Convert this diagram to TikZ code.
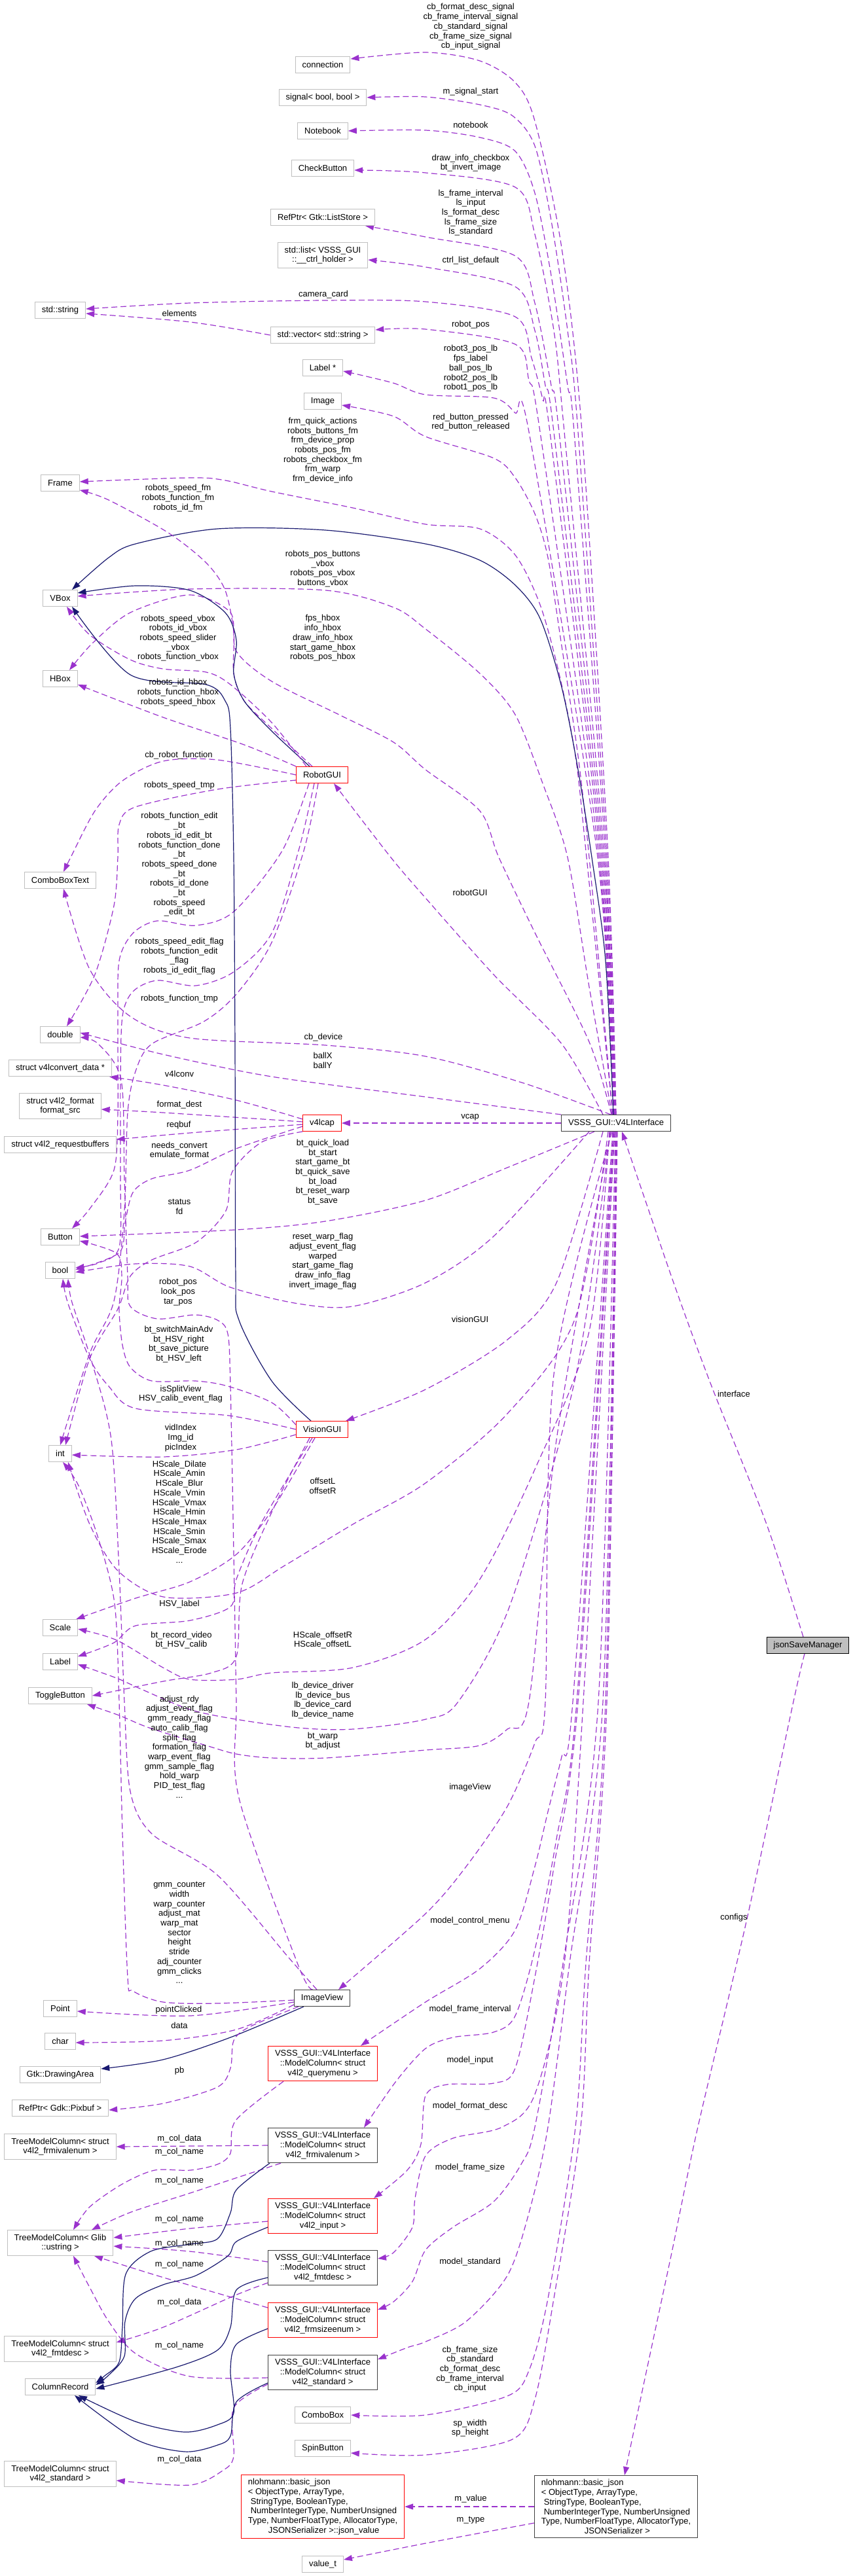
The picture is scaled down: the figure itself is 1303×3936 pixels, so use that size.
\documentclass[tikz,border=0pt]{standalone}
\usepackage{fontspec}
\setmainfont{Liberation Sans}
\usetikzlibrary{arrows.meta,backgrounds}
\definecolor{depc}{HTML}{9A32CD}
\definecolor{inhc}{HTML}{191970}
\definecolor{extgray}{HTML}{BFBFBF}
\definecolor{blkgray}{HTML}{404040}
\begin{document}
\begin{tikzpicture}[x=1pt,y=-1pt,
  cls/.style={rectangle, line width=1pt, fill=white, font=\fontsize{13}{14.7}\selectfont, inner xsep=10.5pt, inner ysep=6pt, minimum height=25pt, align=center},
  ext/.style={cls, draw=extgray},
  trunc/.style={cls, draw=red},
  blk/.style={cls, draw=blkgray},
  lbl/.style={font=\fontsize{13}{14.7}\selectfont, align=center, inner sep=0pt},
  dep/.style={draw=depc, line width=1.2pt, dash pattern=on 9pt off 5pt, -{Triangle[length=13pt,width=9pt]}},
  inh/.style={draw=inhc, line width=1.2pt, -{Triangle[length=13pt,width=9pt]}}]
\useasboundingbox (0,0) rectangle (1303,3936);
% ---------- nodes ----------
\node[ext] (connection) at (493,99) {connection};
\node[ext] (signal) at (493,149) {signal< bool, bool >};
\node[ext] (notebook) at (493,200) {Notebook};
\node[ext] (checkbutton) at (493,257) {CheckButton};
\node[ext] (liststore) at (493,332) {RefPtr< Gtk::ListStore >};
\node[ext] (ctrllist) at (493,390) {std::list< VSSS\_GUI\\::\_\_ctrl\_holder >};
\node[ext] (stdstring) at (92,474) {std::string};
\node[ext] (stdvector) at (493,512) {std::vector< std::string >};
\node[ext] (labelptr) at (493,562) {Label *};
\node[ext] (image) at (493,613) {Image};
\node[ext] (frame) at (92,738) {Frame};
\node[ext] (vbox) at (92,914) {VBox};
\node[ext] (hbox) at (92,1037) {HBox};
\node[trunc] (robotgui) at (492,1184) {RobotGUI};
\node[ext] (comboboxtext) at (92,1345) {ComboBoxText};
\node[ext] (ndouble) at (92,1581) {double};
\node[ext] (v4lconvdata) at (92,1632) {struct v4lconvert\_data *};
\node[ext] (v4l2format) at (92,1690) {struct v4l2\_format\\format\_src};
\node[trunc] (v4lcap) at (492,1716) {v4lcap};
\node[blk] (v4l) at (941,1716) {VSSS\_GUI::V4LInterface};
\node[ext] (reqbuf) at (92,1749) {struct v4l2\_requestbuffers};
\node[ext] (button) at (92,1890) {Button};
\node[ext] (nbool) at (92,1941) {bool};
\node[trunc] (visiongui) at (492,2184) {VisionGUI};
\node[ext] (nint) at (92,2221) {int};
\node[ext] (scale) at (92,2487) {Scale};
\node[ext] (nlabel) at (92,2539) {Label};
\node[ext] (togglebutton) at (92,2591) {ToggleButton};
\node[cls, draw=black, fill=extgray] (jsonsave) at (1234,2514) {jsonSaveManager};
\node[blk] (imageview) at (492,3053) {ImageView};
\node[ext] (point) at (92,3069) {Point};
\node[ext] (nchar) at (92,3119) {char};
\node[trunc] (mcquerymenu) at (493,3153) {VSSS\_GUI::V4LInterface\\::ModelColumn< struct\\v4l2\_querymenu >};
\node[ext] (drawingarea) at (92,3170) {Gtk::DrawingArea};
\node[ext] (pixbuf) at (92,3221) {RefPtr< Gdk::Pixbuf >};
\node[ext] (tmcfrmival) at (92,3280) {TreeModelColumn< struct\\v4l2\_frmivalenum >};
\node[blk] (mcfrmival) at (493,3278) {VSSS\_GUI::V4LInterface\\::ModelColumn< struct\\v4l2\_frmivalenum >};
\node[trunc] (mcinput) at (493,3386) {VSSS\_GUI::V4LInterface\\::ModelColumn< struct\\v4l2\_input >};
\node[ext] (tmcustring) at (92,3427) {TreeModelColumn< Glib\\::ustring >};
\node[blk] (mcfmtdesc) at (493,3465) {VSSS\_GUI::V4LInterface\\::ModelColumn< struct\\v4l2\_fmtdesc >};
\node[trunc] (mcfrmsize) at (493,3545) {VSSS\_GUI::V4LInterface\\::ModelColumn< struct\\v4l2\_frmsizeenum >};
\node[ext] (tmcfmtdesc) at (92,3589) {TreeModelColumn< struct\\v4l2\_fmtdesc >};
\node[blk] (mcstandard) at (493,3625) {VSSS\_GUI::V4LInterface\\::ModelColumn< struct\\v4l2\_standard >};
\node[ext] (columnrecord) at (92,3647) {ColumnRecord};
\node[ext] (combobox) at (493,3690) {ComboBox};
\node[ext] (spinbutton) at (493,3741) {SpinButton};
\node[ext] (tmcstandard) at (92,3780) {TreeModelColumn< struct\\v4l2\_standard >};
\node[trunc, align=left] (jsonvalue) at (493,3830) {nlohmann::basic\_json\\< ObjectType, ArrayType,\\\hspace*{4pt}StringType, BooleanType,\\\hspace*{4pt}NumberIntegerType, NumberUnsigned\\Type, NumberFloatType, AllocatorType,\\\hspace*{31pt}JSONSerializer >::json\_value};
\node[blk, align=left] (nlohmann) at (941,3830) {nlohmann::basic\_json\\< ObjectType, ArrayType,\\\hspace*{4pt}StringType, BooleanType,\\\hspace*{4pt}NumberIntegerType, NumberUnsigned\\Type, NumberFloatType, AllocatorType,\\\hspace*{66pt}JSONSerializer >};
\node[ext] (valuet) at (493,3918) {value\_t};
% ---------- edge labels ----------
\node[lbl] (l1) at (719,41) {cb\_format\_desc\_signal\\cb\_frame\_interval\_signal\\cb\_standard\_signal\\cb\_frame\_size\_signal\\cb\_input\_signal};
\node[lbl] (l2) at (719,140) {m\_signal\_start};
\node[lbl] (l3) at (719,191) {notebook};
\node[lbl] (l4) at (719,249) {draw\_info\_checkbox\\bt\_invert\_image};
\node[lbl] (l5) at (719,325) {ls\_frame\_interval\\ls\_input\\ls\_format\_desc\\ls\_frame\_size\\ls\_standard};
\node[lbl] (l6) at (719,398) {ctrl\_list\_default};
\node[lbl] (l7) at (494,450) {camera\_card};
\node[lbl] (l8) at (274,479) {elements};
\node[lbl] (l9) at (719,496) {robot\_pos};
\node[lbl] (l10) at (719,563) {robot3\_pos\_lb\\fps\_label\\ball\_pos\_lb\\robot2\_pos\_lb\\robot1\_pos\_lb};
\node[lbl] (l11) at (719,645) {red\_button\_pressed\\red\_button\_released};
\node[lbl] (l12) at (493,688) {frm\_quick\_actions\\robots\_buttons\_fm\\frm\_device\_prop\\robots\_pos\_fm\\robots\_checkbox\_fm\\frm\_warp\\frm\_device\_info};
\node[lbl] (l13) at (272,761) {robots\_speed\_fm\\robots\_function\_fm\\robots\_id\_fm};
\node[lbl] (l14) at (493,869) {robots\_pos\_buttons\\\_vbox\\robots\_pos\_vbox\\buttons\_vbox};
\node[lbl] (l15) at (272,975) {robots\_speed\_vbox\\robots\_id\_vbox\\robots\_speed\_slider\\\_vbox\\robots\_function\_vbox};
\node[lbl] (l16) at (493,975) {fps\_hbox\\info\_hbox\\draw\_info\_hbox\\start\_game\_hbox\\robots\_pos\_hbox};
\node[lbl] (l17) at (272,1058) {robots\_id\_hbox\\robots\_function\_hbox\\robots\_speed\_hbox};
\node[lbl] (l18) at (273,1154) {cb\_robot\_function};
\node[lbl] (l19) at (274,1200) {robots\_speed\_tmp};
\node[lbl] (l20) at (274,1321) {robots\_function\_edit\\\_bt\\robots\_id\_edit\_bt\\robots\_function\_done\\\_bt\\robots\_speed\_done\\\_bt\\robots\_id\_done\\\_bt\\robots\_speed\\\_edit\_bt};
\node[lbl] (l21) at (718,1364) {robotGUI};
\node[lbl] (l22) at (274,1461) {robots\_speed\_edit\_flag\\robots\_function\_edit\\\_flag\\robots\_id\_edit\_flag};
\node[lbl] (l23) at (274,1526) {robots\_function\_tmp};
\node[lbl] (l24) at (494,1585) {cb\_device};
\node[lbl] (l25) at (493,1620) {ballX\\ballY};
\node[lbl] (l26) at (274,1641) {v4lconv};
\node[lbl] (l27) at (274,1688) {format\_dest};
\node[lbl] (l28) at (718,1707) {vcap};
\node[lbl] (l29) at (273,1719) {reqbuf};
\node[lbl] (l30) at (274,1758) {needs\_convert\\emulate\_format};
\node[lbl] (l31) at (493,1791) {bt\_quick\_load\\bt\_start\\start\_game\_bt\\bt\_quick\_save\\bt\_load\\bt\_reset\_warp\\bt\_save};
\node[lbl] (l32) at (274,1844) {status\\fd};
\node[lbl] (l33) at (493,1927) {reset\_warp\_flag\\adjust\_event\_flag\\warped\\start\_game\_flag\\draw\_info\_flag\\invert\_image\_flag};
\node[lbl] (l34) at (272,1974) {robot\_pos\\look\_pos\\tar\_pos};
\node[lbl] (l35) at (718,2016) {visionGUI};
\node[lbl] (l36) at (273,2054) {bt\_switchMainAdv\\bt\_HSV\_right\\bt\_save\_picture\\bt\_HSV\_left};
\node[lbl] (l37) at (1121,2130) {interface};
\node[lbl] (l38) at (276,2130) {isSplitView\\HSV\_calib\_event\_flag};
\node[lbl] (l39) at (276,2197) {vidIndex\\Img\_id\\picIndex};
\node[lbl] (l40) at (493,2270) {offsetL\\offsetR};
\node[lbl] (l41) at (274,2310) {HScale\_Dilate\\HScale\_Amin\\HScale\_Blur\\HScale\_Vmin\\HScale\_Vmax\\HScale\_Hmin\\HScale\_Hmax\\HScale\_Smin\\HScale\_Smax\\HScale\_Erode\\...};
\node[lbl] (l42) at (274,2451) {HSV\_label};
\node[lbl] (l43) at (277,2506) {bt\_record\_video\\bt\_HSV\_calib};
\node[lbl] (l44) at (493,2506) {HScale\_offsetR\\HScale\_offsetL};
\node[lbl] (l45) at (493,2598) {lb\_device\_driver\\lb\_device\_bus\\lb\_device\_card\\lb\_device\_name};
\node[lbl] (l46) at (274,2669) {adjust\_rdy\\adjust\_event\_flag\\gmm\_ready\_flag\\auto\_calib\_flag\\split\_flag\\formation\_flag\\warp\_event\_flag\\gmm\_sample\_flag\\hold\_warp\\PID\_test\_flag\\...};
\node[lbl] (l47) at (493,2660) {bt\_warp\\bt\_adjust};
\node[lbl] (l48) at (718,2731) {imageView};
\node[lbl] (l49) at (1121,2930) {configs};
\node[lbl] (l50) at (718,2935) {model\_control\_menu};
\node[lbl] (l51) at (274,2953) {gmm\_counter\\width\\warp\_counter\\adjust\_mat\\warp\_mat\\sector\\height\\stride\\adj\_counter\\gmm\_clicks\\...};
\node[lbl] (l52) at (718,3070) {model\_frame\_interval};
\node[lbl] (l53) at (273,3071) {pointClicked};
\node[lbl] (l54) at (274,3095) {data};
\node[lbl] (l55) at (718,3148) {model\_input};
\node[lbl] (l56) at (274,3164) {pb};
\node[lbl] (l57) at (718,3218) {model\_format\_desc};
\node[lbl] (l58) at (274,3268) {m\_col\_data};
\node[lbl] (l59) at (274,3288) {m\_col\_name};
\node[lbl] (l60) at (718,3312) {model\_frame\_size};
\node[lbl] (l61) at (274,3332) {m\_col\_name};
\node[lbl] (l62) at (274,3391) {m\_col\_name};
\node[lbl] (l63) at (274,3428) {m\_col\_name};
\node[lbl] (l64) at (718,3456) {model\_standard};
\node[lbl] (l65) at (274,3460) {m\_col\_name};
\node[lbl] (l66) at (274,3518) {m\_col\_data};
\node[lbl] (l67) at (274,3584) {m\_col\_name};
\node[lbl] (l68) at (718,3620) {cb\_frame\_size\\cb\_standard\\cb\_format\_desc\\cb\_frame\_interval\\cb\_input};
\node[lbl] (l69) at (718,3710) {sp\_width\\sp\_height};
\node[lbl] (l70) at (274,3758) {m\_col\_data};
\node[lbl] (l71) at (719,3818) {m\_value};
\node[lbl] (l72) at (719,3851) {m\_type};
% ---------- edges ----------
\begin{scope}[on background layer]
\fill[white] (0,0) rectangle (1303,3936);
% V4LInterface -> upper targets
\draw[dep] plot[smooth] coordinates {(v4l.north) (929,1310) (889,660) (858,379) (817,185) (787,126) (733,93) (650,80) ([yshift=9pt]connection.east)};
\draw[dep] plot[smooth] coordinates {(v4l.north) (927,1310) (883,660) (867,505) (842,337) (817,223) (783,177) (733,160) (650,148) (signal.east)};
\draw[dep] plot[smooth] coordinates {([xshift=-1pt]v4l.north) (925,1310) (877,660) (867,589) (842,421) (817,295) (787,231) (733,210) (650,199) (notebook.east)};
\draw[dep] plot[smooth] coordinates {([xshift=-2pt]v4l.north) (923,1310) (862,660) (846,505) (817,358) (787,286) (650,264) ([yshift=-3pt]checkbutton.east)};
\draw[dep] plot[smooth] coordinates {([xshift=-2pt]v4l.north) (921,1310) (854,660) (842,589) (817,463) (787,391) (650,362) ([xshift=-15pt]liststore.south east)};
\draw[dep] plot[smooth] coordinates {([xshift=-3pt]v4l.north) (919,1310) (846,660) (833,589) (817,505) (787,438) (650,408) ([yshift=-7pt]ctrllist.east)};
\draw[dep] plot[smooth] coordinates {([xshift=-3pt]v4l.north) (917,1310) (840,660) (829,610) (812,547) (787,484) (650,461) (494,459) (290,463) ([yshift=2pt]stdstring.east)};
\draw[dep] plot[smooth] coordinates {(stdvector.west) (290,492) ([yshift=-5pt]stdstring.east)};
\draw[dep] plot[smooth] coordinates {([xshift=-4pt]v4l.north) (915,1310) (825,660) (808,581) (787,526) (650,503) ([yshift=8pt]stdvector.east)};
\draw[dep] plot[smooth] coordinates {([xshift=-4pt]v4l.north) (913,1310) (808,660) (787,631) (754,608) (650,603) (600,585) ([yshift=-5pt]labelptr.east)};
\draw[dep] plot[smooth] coordinates {([xshift=-5pt]v4l.north) (900,1310) (883,1155) (858,987) (837,852) (817,785) (787,730) (754,700) (650,667) (601,636) ([yshift=-6pt]image.east)};
\draw[dep] plot[smooth] coordinates {([xshift=-5pt]v4l.north) (896,1310) (879,1155) (854,1029) (825,924) (787,848) (733,808) (650,801) (539,776) (415,751) (344,734) (290,730) ([yshift=2pt]frame.east)};
\draw[inh] plot[smooth] coordinates {([xshift=-4pt]v4l.north) (925,1468) (904,1310) (883,1176) (858,1050) (825,945) (787,894) (733,856) (650,831) (497,810) (332,808) (207,831) (166,852) ([xshift=18pt]vbox.north)};
\draw[dep] plot[smooth] coordinates {([xshift=-6pt]v4l.north) (900,1508) (867,1310) (829,1197) (787,1092) (733,1029) (650,961) (601,928) (498,902) (290,900) ([yshift=3pt]vbox.east)};
\draw[dep] plot[smooth] coordinates {([xshift=-7pt]v4l.north) (900,1592) (817,1425) (762,1310) (733,1239) (650,1176) (601,1134) (518,1092) (415,1041) (361,995) (352,936) (290,909) (199,936) (141,983) ([xshift=14pt]hbox.north)};
\draw[dep] plot[smooth] coordinates {([xshift=-20pt]v4l.north) (858,1595) (754,1489) (650,1372) (597,1310) ([xshift=18pt]robotgui.south)};
\draw[dep] plot[smooth] coordinates {([xshift=-8pt]v4l.north) (800,1655) (650,1614) (497,1597) (290,1586) (199,1553) (137,1481) ([xshift=5pt]comboboxtext.south)};
\draw[dep] plot[smooth] coordinates {(v4l.north west) (650,1676) (415,1645) (249,1611) ([yshift=3pt]ndouble.east)};
\draw[dep] (v4l.west) -- (v4lcap.east);
% V4LInterface -> lower targets
\draw[dep] plot[smooth] coordinates {([xshift=-33pt]v4l.south) (775,1784) (650,1834) (497,1866) (361,1879) ([yshift=1pt]button.east)};
\draw[dep] plot[smooth] coordinates {([xshift=-41pt]v4l.south) (754,1889) (650,1960) (539,1996) (456,1992) (352,1967) (290,1935) (207,1931) ([yshift=-3pt]nbool.east)};
\draw[dep] plot[smooth] coordinates {([xshift=-20pt]v4l.south) (850,1960) (775,2047) (650,2123) ([xshift=-4pt]visiongui.north east)};
\draw[dep] plot[smooth] coordinates {([xshift=-12pt]v4l.south) (879,2013) (775,2160) (650,2266) (539,2329) (435,2392) (361,2434) (250,2440) (180,2400) (137,2329) ([xshift=12pt]nint.south)};
\draw[dep] plot[smooth] coordinates {([xshift=-10pt]v4l.south) (900,2034) (817,2245) (733,2413) (650,2505) (539,2548) (415,2556) (361,2566) (290,2566) (249,2548) (178,2506) ([yshift=-2pt]scale.east)};
\draw[dep] plot[smooth] coordinates {([xshift=-9pt]v4l.south) (880,2100) (780,2450) (700,2600) (650,2627) (539,2642) (456,2640) (361,2627) (290,2612) (216,2581) (178,2564) ([yshift=-4pt]nlabel.east)};
\draw[dep] plot[smooth] coordinates {([xshift=-8pt]v4l.south) (850,2200) (808,2600) (775,2642) (733,2667) (650,2674) (498,2686) (415,2686) (361,2680) (315,2667) (228,2640) (182,2621) ([xshift=-8pt]togglebutton.south east)};
\draw[dep] plot[smooth] coordinates {([xshift=-6pt]v4l.south) (846,2100) (833,2600) (817,2663) (775,2760) (712,2852) (650,2924) ([xshift=25pt]imageview.north)};
\draw[dep] plot[smooth] coordinates {([xshift=-5pt]v4l.south) (875,2600) (858,2684) (837,2768) (817,2852) (787,2949) (733,3008) (650,3059) ([xshift=58pt]mcquerymenu.north)};
\draw[dep] plot[smooth] coordinates {([xshift=-4pt]v4l.south) (881,2600) (850,2810) (817,2979) (787,3080) (754,3105) (692,3113) (650,3130) (605,3180) ([xshift=63pt]mcfrmival.north)};
\draw[dep] plot[smooth] coordinates {([xshift=-3pt]v4l.south) (883,2600) (846,2853) (817,3021) (787,3160) (754,3183) (683,3185) (650,3202) (643,3276) (622,3316) ([xshift=-6pt]mcinput.north east)};
\draw[dep] plot[smooth] coordinates {([xshift=-2pt]v4l.south) (891,2600) (862,3000) (817,3200) (767,3250) (692,3267) (650,3294) (634,3359) (630,3403) (601,3442) ([yshift=14pt]mcfmtdesc.east)};
\draw[dep] plot[smooth] coordinates {([xshift=-1pt]v4l.south) (914,2600) (860,3000) (817,3250) (796,3307) (754,3364) (692,3403) (650,3438) (630,3486) (601,3517) ([yshift=16pt]mcfrmsize.east)};
\draw[dep] plot[smooth] coordinates {(v4l.south) (921,2600) (870,3000) (837,3250) (808,3381) (775,3477) (712,3547) (650,3578) (622,3587) ([yshift=20pt]mcstandard.east)};
\draw[dep] plot[smooth] coordinates {([xshift=1pt]v4l.south) (925,2600) (895,3000) (879,3250) (837,3512) (808,3622) (775,3661) (650,3690) (combobox.east)};
\draw[dep] plot[smooth] coordinates {([xshift=2pt]v4l.south) (927,2600) (900,3000) (887,3250) (846,3512) (817,3666) (783,3727) (650,3751) ([yshift=-7pt]spinbutton.east)};
% jsonSaveManager
\draw[dep] plot[smooth] coordinates {([xshift=-7pt]jsonsave.north) (1171,2329) (1087,2118) (1029,1960) ([xshift=9pt]v4l.south)};
\draw[dep] plot[smooth] coordinates {([xshift=-5pt]jsonsave.south) (1212,2600) (1141,2932) (1066,3250) (1025,3447) (983,3644) ([xshift=13pt]nlohmann.north)};
\draw[dep] (nlohmann.west) -- (jsonvalue.east);
\draw[dep] plot[smooth] coordinates {([yshift=-25pt]nlohmann.west) (650,3886) ([yshift=7pt]valuet.east)};
% RobotGUI
\draw[dep] plot[smooth] coordinates {([xshift=-15pt]robotgui.north) (415,1113) (373,1071) (357,1029) (357,966) (344,902) (315,860) (257,814) (166,764) (frame.-20)};
\draw[inh] plot[smooth] coordinates {([xshift=-19pt]robotgui.north) (415,1117) (373,1071) (357,1029) (361,978) (344,936) (290,902) (207,895) ([yshift=8pt]vbox.east)};
\draw[dep] plot[smooth] coordinates {([xshift=-24pt]robotgui.north) (415,1104) (352,1046) (315,1027) (249,1022) (199,1008) (137,970) ([xshift=10pt]vbox.south)};
\draw[dep] plot[smooth] coordinates {(robotgui.north west) (373,1138) (249,1096) ([yshift=-9pt]hbox.east)};
\draw[dep] plot[smooth] coordinates {(robotgui.west) (332,1161) (249,1163) (187,1193) (145,1239) (108,1310) ([xshift=5pt]comboboxtext.north)};
\draw[dep] plot[smooth] coordinates {([yshift=-8pt]robotgui.west) (332,1206) (207,1233) (182,1260) (180,1310) (174,1384) (145,1489) ([xshift=10pt]ndouble.north)};
\draw[dep] plot[smooth] coordinates {([xshift=-20pt]robotgui.south) (431,1300) (357,1393) (299,1414) (240,1407) (203,1426) (182,1468) (180,1560) (180,1700) (174,1788) (137,1847) ([xshift=18pt]button.north)};
\draw[dep] plot[smooth] coordinates {([xshift=-12pt]robotgui.south) (456,1300) (415,1426) (357,1485) (299,1506) (240,1498) (203,1515) (187,1553) (184,1650) (184,1800) (182,1906) (150,1930) ([yshift=4pt]nbool.east)};
\draw[dep] plot[smooth] coordinates {([xshift=-6pt]robotgui.south) (464,1300) (415,1440) (361,1519) (311,1561) (232,1595) (207,1637) (195,1700) (190,1850) (174,1988) (137,2068) (nint.north)};
% v4lcap
\draw[dep] plot[smooth] coordinates {([yshift=6pt]v4lcap.west) (361,1681) (249,1658) ([xshift=-4pt]v4lconvdata.south east)};
\draw[dep] plot[smooth] coordinates {([yshift=2pt]v4lcap.west) (249,1700) ([yshift=-5pt]v4l2format.east)};
\draw[dep] plot[smooth] coordinates {([yshift=-2pt]v4lcap.west) (290,1731) ([yshift=8pt]reqbuf.east)};
\draw[dep] plot[smooth] coordinates {([yshift=-5pt]v4lcap.west) (361,1755) (290,1788) (232,1801) (203,1822) (191,1868) (182,1914) ([yshift=1pt]nbool.east)};
\draw[dep] plot[smooth] coordinates {(v4lcap.south west) (400,1745) (355,1790) (345,1850) (300,1898) (232,1925) (199,1950) (180,2000) (137,2076) ([xshift=8pt]nint.north)};
% VisionGUI
\draw[inh] plot[smooth] coordinates {([xshift=-17pt]visiongui.north) (415,2110) (365,2017) (360,1950) (359,1600) (357,1310) (352,1113) (344,1071) (315,1046) (199,1031) ([xshift=18pt]vbox.south)};
\draw[dep] plot[smooth] coordinates {([yshift=7pt]visiongui.west) (415,2143) (348,2118) (299,2110) (232,2110) (199,2089) (187,2055) (182,2000) (186,1950) (178,1915) ([yshift=-6pt]button.east)};
\draw[dep] plot[smooth] coordinates {(visiongui.west) (350,2163) (207,2152) (166,2118) (137,2076) (104,1992) ([xshift=4pt]nbool.south)};
\draw[dep] plot[smooth] coordinates {([yshift=-8pt]visiongui.west) (361,2215) (249,2226) ([yshift=-2pt]nint.east)};
\draw[dep] plot[smooth] coordinates {([xshift=-11pt]visiongui.south) (415,2308) (361,2375) (290,2417) (207,2442) ([xshift=-3pt]scale.north east)};
\draw[dep] plot[smooth] coordinates {([xshift=-15pt]visiongui.south) (398,2329) (361,2413) (352,2455) (290,2476) (207,2484) (174,2510) ([yshift=8pt]nlabel.east)};
\draw[dep] plot[smooth] coordinates {([xshift=-19pt]visiongui.south) (420,2300) (370,2420) (361,2531) (323,2556) (249,2569) (togglebutton.east)};
% ImageView
\draw[dep] plot[smooth] coordinates {([xshift=-14pt]imageview.north) (456,3004) (365,2747) (361,2600) (357,2371) (352,2118) (348,2038) (332,2017) (298,2009) (240,2015) (199,1996) (195,1950) (190,1800) (185,1650) (150,1595) ([yshift=-4pt]ndouble.east)};
\draw[dep] plot[smooth] coordinates {([xshift=-8pt]imageview.north) (440,2990) (332,2865) (232,2802) (199,2737) (190,2600) (182,2400) (170,2200) (140,2080) (110,1990) ([xshift=12pt]nbool.south)};
\draw[dep] plot[smooth] coordinates {([yshift=-3pt]imageview.west) (332,3061) (249,3059) (203,3042) (195,3021) (187,2800) (182,2600) (175,2450) (150,2350) (120,2270) ([xshift=4pt]nint.south)};
\draw[dep] plot[smooth] coordinates {([yshift=-6pt]imageview.west) (290,3080) ([yshift=-4pt]point.east)};
\draw[dep] plot[smooth] coordinates {([yshift=-10pt]imageview.west) (361,3101) (249,3118) ([yshift=-2pt]nchar.east)};
\draw[inh] plot[smooth] coordinates {([xshift=-28pt]imageview.south) (352,3113) (249,3147) ([yshift=9pt]drawingarea.east)};
\draw[dep] plot[smooth] coordinates {([xshift=-36pt]imageview.south) (381,3097) (357,3118) (352,3160) (332,3189) (249,3214) ([yshift=-3pt]pixbuf.east)};
% ModelColumns
\draw[dep] (mcfrmival.west) -- (tmcfrmival.east);
\draw[dep] plot[smooth] coordinates {([xshift=24pt]mcquerymenu.south west) (360,3240) (352,3290) (332,3307) (290,3316) (236,3316) (187,3337) (137,3372) ([xshift=20pt]tmcustring.north)};
\draw[dep] plot[smooth] coordinates {([xshift=20pt]mcfrmival.south west) (290,3351) (200,3380) ([xshift=48pt]tmcustring.north)};
\draw[dep] plot[smooth] coordinates {([yshift=-8pt]mcinput.west) (290,3405) ([yshift=8pt]tmcustring.east)};
\draw[dep] plot[smooth] coordinates {([yshift=9pt]mcfmtdesc.west) (290,3440) ([yshift=-5pt]tmcustring.east)};
\draw[dep] plot[smooth] coordinates {([yshift=19pt]mcfrmsize.west) (250,3480) ([xshift=52pt]tmcustring.south)};
\draw[dep] plot[smooth] coordinates {([yshift=-8pt]mcstandard.west) (290,3631) (207,3596) (166,3547) (137,3495) ([xshift=20pt]tmcustring.south)};
\draw[dep] plot[smooth] coordinates {([yshift=-23pt]mcfmtdesc.west) (357,3508) (249,3556) ([yshift=10pt]tmcfmtdesc.east)};
\draw[dep] plot[smooth] coordinates {([yshift=-18pt]mcstandard.west) (357,3679) (357,3753) (340,3775) (290,3797) ([yshift=-10pt]tmcstandard.east)};
\draw[inh] plot[smooth] coordinates {([xshift=3pt]mcfrmival.south west) (361,3346) (352,3381) (332,3421) (290,3429) (230,3440) (192,3475) (187,3556) (182,3609) (160,3630) ([yshift=6pt]columnrecord.east)};
\draw[inh] plot[smooth] coordinates {([yshift=-17pt]mcinput.west) (361,3425) (348,3447) (299,3477) (249,3491) (207,3512) (191,3547) (190,3600) (165,3630) ([yshift=3pt]columnrecord.east)};
\draw[inh] plot[smooth] coordinates {([yshift=-15pt]mcfmtdesc.west) (361,3499) (352,3556) (332,3591) (269,3617) ([yshift=-3pt]columnrecord.east)};
\draw[inh] plot[smooth] coordinates {([yshift=-13pt]mcfrmsize.west) (361,3582) (352,3622) (357,3687) (332,3705) (282,3716) (207,3700) ([xshift=28pt]columnrecord.south)};
\draw[inh] plot[smooth] coordinates {([yshift=-16pt]mcstandard.west) (361,3670) (352,3722) (332,3736) (282,3746) (207,3727) ([xshift=22pt]columnrecord.south)};
\end{scope}
\end{tikzpicture}
\end{document}
